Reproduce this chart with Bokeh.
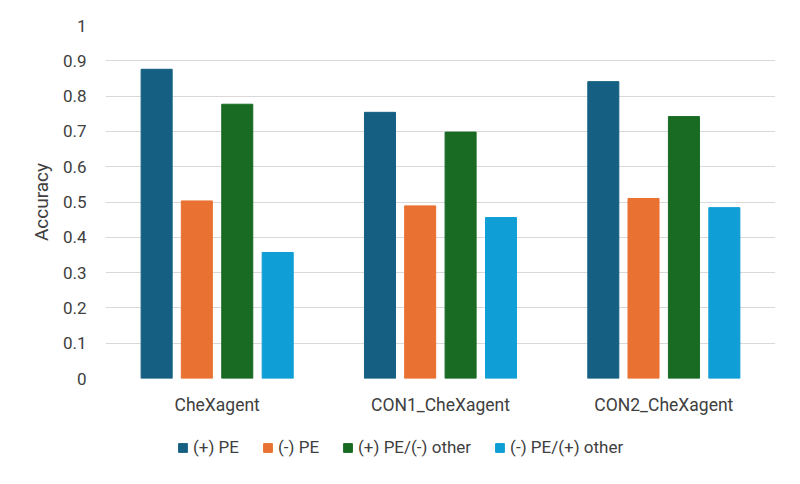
from bokeh.plotting import figure
from bokeh.models import FactorRange, Range1d, Legend, LegendItem, ColumnDataSource, FixedTicker
from bokeh.layouts import column
from bokeh.transform import dodge
from bokeh.embed import file_html
from bokeh.resources import INLINE

categories = ["CheXagent", "CON1_CheXagent", "CON2_CheXagent"]
series_names = ["(+) PE", "(-) PE", "(+) PE/(-) other", "(-) PE/(+) other"]
pos_pe = [0.876, 0.754, 0.841]
neg_pe = [0.503, 0.489, 0.510]
pos_pe_neg_other = [0.777, 0.698, 0.742]
neg_pe_pos_other = [0.357, 0.456, 0.484]
y_ticks = [0, 0.1, 0.2, 0.3, 0.4, 0.5, 0.6, 0.7, 0.8, 0.9, 1]

colors = ["#156082", "#E97132", "#196B24", "#0F9ED5"]
offsets = [-0.271, -0.091, 0.09, 0.271]
keys = ["s0", "s1", "s2", "s3"]
FONT = "Roboto"
TEXT = "#404040"

source = ColumnDataSource(dict(cat=categories, s0=pos_pe, s1=neg_pe, s2=pos_pe_neg_other, s3=neg_pe_pos_other))

p = figure(x_range=FactorRange(*categories), y_range=Range1d(0, 1),
           width=800, height=430, output_backend="svg", toolbar_location=None,
           min_border_left=105, min_border_right=25, min_border_top=25, min_border_bottom=52)

for i, key in enumerate(keys):
    p.vbar(x=dodge("cat", offsets[i], range=p.x_range), top=key, width=0.139, source=source,
           fill_color=colors[i], line_color=colors[i], line_width=1)

p.outline_line_color = None
p.xgrid.grid_line_color = None
p.ygrid.grid_line_color = "#D9D9D9"
p.ygrid.grid_line_width = 1.2

p.yaxis.ticker = FixedTicker(ticks=y_ticks)
p.yaxis.axis_line_color = None
p.yaxis.major_tick_line_color = None
p.yaxis.major_tick_out = 0
p.yaxis.minor_tick_line_color = None
p.yaxis.minor_tick_out = 0
p.yaxis.major_label_standoff = 19
p.yaxis.major_label_text_font = FONT
p.yaxis.major_label_text_font_size = "17px"
p.yaxis.major_label_text_color = TEXT
p.yaxis.axis_label = "Accuracy"
p.yaxis.axis_label_text_font = FONT
p.yaxis.axis_label_text_font_size = "19px"
p.yaxis.axis_label_text_font_style = "normal"
p.yaxis.axis_label_text_color = TEXT
p.yaxis.axis_label_standoff = 7

p.xaxis.axis_line_color = None
p.xaxis.major_tick_line_color = None
p.xaxis.major_tick_out = 0
p.xaxis.minor_tick_line_color = None
p.xaxis.minor_tick_out = 0
p.xaxis.major_label_standoff = 16
p.xaxis.major_label_text_font = FONT
p.xaxis.major_label_text_font_size = "17.5px"
p.xaxis.major_label_text_color = TEXT

# legend strip below the chart (its bars stay outside its visible y range)
lg = figure(width=800, height=54, output_backend="svg", toolbar_location=None,
            x_range=p.x_range, y_range=Range1d(2, 3), x_axis_type=None, y_axis_type=None,
            min_border_left=105, min_border_right=25, min_border_top=0, min_border_bottom=0,
            outline_line_color=None)
lg.xgrid.grid_line_color = None
lg.ygrid.grid_line_color = None
legend_renderers = [lg.vbar(x=dodge("cat", offsets[i], range=p.x_range), top=keys[i], width=0.139,
                            source=source, fill_color=colors[i], line_color=colors[i])
                    for i in range(4)]
legend = Legend(items=[LegendItem(label=series_names[i], renderers=[legend_renderers[i]]) for i in range(4)],
                orientation="horizontal", location=(72, 27), padding=0, margin=0, spacing=23,
                glyph_width=11, glyph_height=11, label_standoff=5,
                label_text_font=FONT, label_text_font_size="17px", label_text_color=TEXT,
                border_line_color=None, background_fill_alpha=0)
lg.add_layout(legend, "center")

layout = column(p, lg, spacing=0)
open("out.html", "w").write(file_html(layout, INLINE))
